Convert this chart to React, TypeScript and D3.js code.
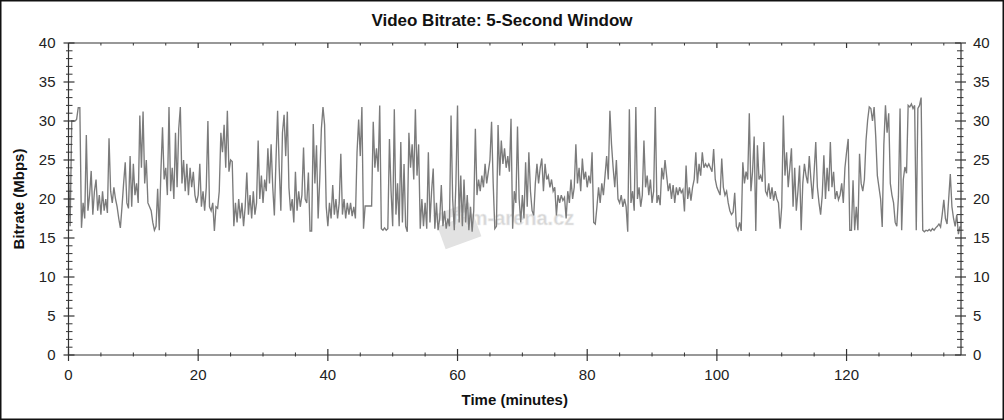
import React from "react";
import * as d3 from "d3";

// Sampling interval of the bitrate series (minutes)
const STEP_MIN = 0.25;

// Bitrate (Mbps), one value every 0.25 min, split by time span
const BITRATE_00_20 = [
  23.5, 16.5, 30.0, 30.0, 30.0, 30.2, 31.7, 31.7, 16.3, 19.5, 17.5, 28.2,
  18.5, 20.5, 23.6, 18.0, 21.0, 22.5, 18.5, 20.5, 18.0, 21.0, 18.5, 20.0,
  18.2, 27.8, 21.0, 19.5, 21.5, 20.0, 19.0, 17.5, 16.3, 19.0, 22.0, 24.7,
  19.5, 18.8, 25.5, 19.0, 24.5, 20.5, 22.0, 19.5, 30.7, 24.0, 31.2, 22.0,
  25.0, 19.5, 19.0, 18.5, 17.0, 16.0, 16.5, 21.3, 16.0, 23.5, 29.2, 22.5,
  24.0, 20.5, 31.8, 21.0, 24.0, 20.0, 28.5, 21.5, 29.0, 31.8, 22.0, 25.0,
  21.0, 24.5, 20.5, 24.0, 21.5, 23.5, 20.5, 19.5,
];
const BITRATE_20_40 = [
  20.5, 24.5, 19.0, 21.0, 18.5, 21.5, 30.0, 19.0, 18.5, 19.5, 15.9, 19.0,
  18.8, 21.0, 28.5, 26.0, 29.5, 24.0, 31.3, 23.5, 25.0, 24.8, 16.5, 19.5,
  17.0, 20.0, 17.5, 19.5, 16.5, 19.0, 23.4, 18.0, 20.5, 17.5, 21.0, 18.0,
  19.5, 27.5, 20.0, 23.0, 19.5, 22.5, 21.0, 26.5, 22.0, 27.0, 21.5, 17.9,
  25.0, 31.3, 24.0, 18.5, 28.5, 30.8, 25.5, 31.2, 21.4, 18.5, 20.0, 17.0,
  23.5, 18.5, 21.0, 19.0, 20.5, 26.6, 20.0, 19.5, 23.4, 15.9, 15.9, 29.6,
  22.0, 26.9, 17.5, 22.5, 29.0, 31.8, 29.5, 19.0,
];
const BITRATE_40_60 = [
  16.5, 19.5, 17.5, 21.8, 18.0, 20.0, 17.5, 19.5, 25.8, 18.0, 20.0, 17.5,
  19.5, 18.0, 19.5, 17.8, 19.0, 17.5, 26.0, 30.2, 25.5, 31.8, 16.2, 19.1,
  19.1, 19.1, 19.1, 19.1, 29.9, 24.0, 26.5, 23.5, 32.0, 16.2, 16.0, 16.3,
  16.0, 16.2, 27.7, 21.0, 16.5, 31.5, 18.0, 22.0, 16.5, 27.3, 17.0, 24.5,
  16.5, 15.8, 28.5, 24.0, 27.0, 22.5, 31.5, 23.0, 27.0, 16.2, 20.0, 16.5,
  19.5, 16.2, 26.0, 17.0, 21.0, 23.9, 16.2, 19.5, 16.0, 17.5, 21.8, 16.5,
  18.5, 16.2, 17.5, 16.5, 30.7, 20.0, 16.0, 22.0,
];
const BITRATE_60_80 = [
  32.0, 17.0, 23.0, 16.5, 22.5, 17.0, 20.5, 16.0, 19.0, 15.8, 18.5, 29.0,
  20.5, 22.5, 21.0, 23.0, 21.5, 24.5, 22.0, 23.5, 25.0, 29.9, 22.0, 16.2,
  16.5, 29.5, 23.0, 27.5, 24.5, 26.5, 24.0, 25.5, 23.5, 30.3, 16.2, 21.0,
  19.5, 29.3, 20.0, 17.0, 20.5, 17.5, 24.7, 19.0, 26.0, 21.0, 18.5, 17.9,
  22.0, 24.5, 22.0, 24.0, 25.2, 21.0, 24.5, 22.5, 23.0, 21.5, 22.5, 21.0,
  21.5, 17.9, 20.5, 19.5, 20.5, 19.8, 20.2, 17.5, 21.0, 19.5, 22.5, 20.0,
  21.5, 27.0, 22.0, 24.0, 21.0, 25.2, 22.5, 23.5,
];
const BITRATE_80_100 = [
  21.5, 23.0, 22.0, 26.0, 17.0, 16.8, 19.0, 21.5, 19.5, 22.0, 20.5, 23.0,
  25.5, 22.5, 31.3, 27.0, 24.0, 21.5, 25.0, 20.0, 19.5, 20.5, 19.0, 20.0,
  19.0, 15.8, 31.5, 19.5, 21.0, 18.5, 31.8, 20.0, 21.5, 19.0, 20.5, 27.5,
  21.5, 23.0, 20.5, 22.5, 19.5, 21.0, 31.8, 19.5, 20.5, 19.2, 24.0, 22.5,
  25.0, 23.0, 21.0, 22.0, 20.0, 21.8, 19.5, 21.5, 20.5, 21.5, 20.8, 21.2,
  18.4, 24.3, 20.0, 21.5, 19.8, 21.5, 22.5, 26.0, 22.0, 24.5, 23.0, 26.0,
  24.0, 24.5, 24.1, 24.5, 24.0, 23.5, 26.4, 22.5,
];
const BITRATE_100_120 = [
  21.5, 21.0, 20.5, 25.2, 21.5, 20.5, 21.0, 19.5, 18.5, 18.0, 18.3, 20.8,
  16.5, 16.0, 17.0, 15.9, 24.7, 22.0, 23.5, 22.5, 31.0, 21.0, 23.5, 28.0,
  15.9, 26.9, 22.5, 23.0, 22.2, 27.3, 21.0, 20.5, 22.0, 20.0, 21.5, 19.8,
  21.0, 20.0, 19.5, 16.2, 19.0, 30.7, 23.0, 26.0, 21.5, 24.0, 26.5, 19.0,
  24.0, 18.5, 21.0, 24.3, 16.0, 22.0, 24.5, 23.0, 22.0, 25.5, 22.5, 20.0,
  23.5, 27.3, 21.5, 19.5, 18.0, 20.5, 25.6, 20.0, 24.0, 21.0, 27.3, 21.5,
  23.5, 20.0, 21.0, 19.9, 20.5, 22.0, 19.5, 24.0,
];
const BITRATE_120_END = [
  26.0, 27.7, 16.0, 16.0, 22.4, 16.0, 19.0, 16.0, 25.8, 22.0, 21.0, 22.5,
  27.5, 30.1, 31.8, 31.6, 30.0, 31.8, 28.0, 23.0, 21.5, 20.0, 16.4, 27.0,
  32.0, 28.5, 31.0, 22.0, 20.5, 19.5, 17.0, 16.5, 20.3, 31.6, 16.0, 22.5,
  24.1, 23.3, 32.0, 31.8, 32.2, 31.6, 32.0, 16.0, 31.6, 32.0, 33.0, 16.0,
  15.8, 16.0, 15.9, 16.1, 15.9, 16.2, 16.0, 16.3, 16.5, 16.8, 16.4, 18.0,
  19.9, 17.5, 16.8, 20.0, 23.2, 19.0, 17.5, 16.5, 18.0, 15.5, 16.5,
];

const BITRATE = [
  ...BITRATE_00_20,
  ...BITRATE_20_40,
  ...BITRATE_40_60,
  ...BITRATE_60_80,
  ...BITRATE_80_100,
  ...BITRATE_100_120,
  ...BITRATE_120_END,
];

const X_MAX = 137.65;
const Y_MAX = 40;
const X_MAJOR = [0, 20, 40, 60, 80, 100, 120];
const Y_MAJOR = [0, 5, 10, 15, 20, 25, 30, 35, 40];

const TITLE = "Video Bitrate: 5-Second Window";
const X_TITLE = "Time (minutes)";
const Y_TITLE = "Bitrate (Mbps)";
const WATERMARK = "film-arena.cz";

const FONT = "'Liberation Sans', Arial, Helvetica, sans-serif";

export default function App() {
  const W = 1004;
  const H = 420;
  const left = 68.5;
  const right = 961;
  const top = 43;
  const bottom = 355;

  const x = d3.scaleLinear().domain([0, X_MAX]).range([left, right]);
  const y = d3.scaleLinear().domain([0, Y_MAX]).range([bottom, top]);

  const line = d3
    .line<number>()
    .x((_, i) => x(i * STEP_MIN))
    .y((d) => y(d));

  const xMinor = d3.range(0, X_MAX, 5).filter((v) => v % 20 !== 0);
  const yMinor = d3.range(0, Y_MAX + 0.001, 1).filter((v) => v % 5 !== 0);
  const axisColor = "#333";

  return (
    <svg
      width={W}
      height={H}
      style={{ position: "absolute", left: 0, top: 0, background: "#fff" }}
      fontFamily={FONT}
    >
      <rect x={0.75} y={0.75} width={W - 1.5} height={H - 1.5} fill="#fff" stroke="#111" strokeWidth={1.5} />

      {/* watermark */}
      <g>
        <g transform="translate(456,222) rotate(-20)">
          <rect x={-19} y={-2} width={38} height={24} fill="#e2e2e2" />
          <rect x={-19} y={-14} width={38} height={8} fill="#e6e6e6" />
        </g>
        <text
          x={452}
          y={225}
          fontSize={20}
          fontWeight="bold"
          fill="#d6d6d6"
          stroke="#f0f0f0"
          strokeWidth={0.6}
        >
          {WATERMARK}
        </text>
      </g>

      {/* data line */}
      <path d={line(BITRATE) || ""} fill="none" stroke="#7b7b7b" strokeWidth={1.35} strokeLinejoin="miter" />

      {/* frame */}
      <line x1={left} x2={right} y1={bottom} y2={bottom} stroke={axisColor} strokeWidth={1.2} />
      <line x1={left} x2={right} y1={top} y2={top} stroke={axisColor} strokeWidth={1.2} />
      <line x1={left} x2={left} y1={top} y2={bottom} stroke={axisColor} strokeWidth={1.2} />
      <line x1={right} x2={right} y1={top} y2={bottom} stroke={axisColor} strokeWidth={1.2} />

      {/* x ticks */}
      {X_MAJOR.map((v) => (
        <g key={"xm" + v}>
          <line x1={x(v)} x2={x(v)} y1={bottom - 6} y2={bottom + 6} stroke={axisColor} strokeWidth={1.2} />
          <line x1={x(v)} x2={x(v)} y1={top} y2={top + 5} stroke={axisColor} strokeWidth={1.2} />
          <text x={x(v)} y={bottom + 25} textAnchor="middle" fontSize={15} fill="#222">
            {v}
          </text>
        </g>
      ))}
      {xMinor.map((v) => (
        <g key={"xn" + v}>
          <line x1={x(v)} x2={x(v)} y1={bottom - 2.5} y2={bottom + 1.5} stroke={axisColor} strokeWidth={1} />
          <line x1={x(v)} x2={x(v)} y1={top} y2={top + 2.5} stroke={axisColor} strokeWidth={1} />
        </g>
      ))}

      {/* y ticks */}
      {Y_MAJOR.map((v) => (
        <g key={"ym" + v}>
          <line x1={left - 5} x2={left + 6} y1={y(v)} y2={y(v)} stroke={axisColor} strokeWidth={1.2} />
          <line x1={right - 6} x2={right + 5} y1={y(v)} y2={y(v)} stroke={axisColor} strokeWidth={1.2} />
          <text x={55.5} y={y(v) + 5.3} textAnchor="end" fontSize={15} fill="#222">
            {v}
          </text>
          <text x={973} y={y(v) + 5.3} textAnchor="start" fontSize={15} fill="#222">
            {v}
          </text>
        </g>
      ))}
      {yMinor.map((v) => (
        <g key={"yn" + v}>
          <line x1={left - 2.5} x2={left + 4} y1={y(v)} y2={y(v)} stroke={axisColor} strokeWidth={1} />
          <line x1={right - 4} x2={right + 2.5} y1={y(v)} y2={y(v)} stroke={axisColor} strokeWidth={1} />
        </g>
      ))}

      {/* titles */}
      <text x={502} y={26} textAnchor="middle" fontSize={17} fontWeight="bold" fill="#111">
        {TITLE}
      </text>
      <text x={(left + right) / 2} y={405} textAnchor="middle" fontSize={15} fontWeight="bold" fill="#111">
        {X_TITLE}
      </text>
      <text
        transform={`translate(24,${(top + bottom) / 2}) rotate(-90)`}
        textAnchor="middle"
        fontSize={15}
        fontWeight="bold"
        fill="#111"
      >
        {Y_TITLE}
      </text>
    </svg>
  );
}
